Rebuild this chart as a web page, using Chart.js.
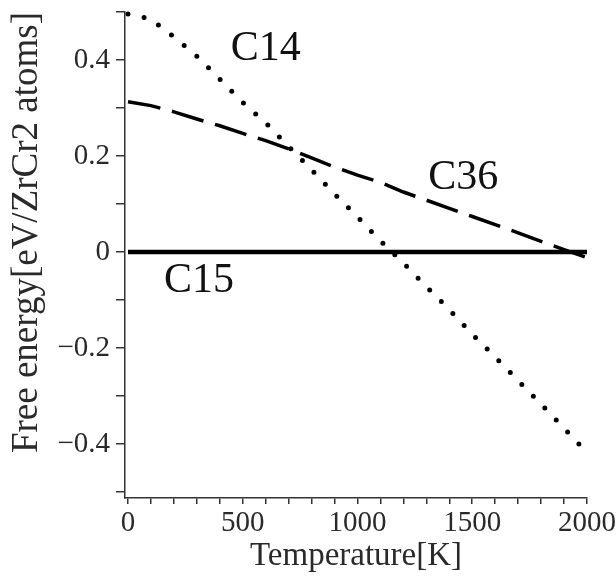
<!DOCTYPE html>
<html>
<head>
<meta charset="utf-8">
<script src="https://cdn.jsdelivr.net/npm/chart.js@4/dist/chart.umd.min.js"></script>
<style>
  html, body { margin: 0; padding: 0; background: #ffffff; }
  #wrap { width: 616px; height: 576px; }
</style>
</head>
<body>
<div id="wrap"><canvas id="c" width="616" height="576"></canvas></div>
<script>
// ---- data ----
const temperatures = [0,100,200,300,400,500,600,700,800,900,1000,1100,1200,1300,1400,1500,1600,1700,1800,1900,2000,2020];
const c14Energy = [0.496,0.485,0.448,0.408,0.360,0.312,0.269,0.220,0.171,0.121,0.073,0.023,-0.023,-0.072,-0.120,-0.171,-0.219,-0.268,-0.317,-0.367,-0.418,-0.428];
const c36Energy = [0.313,0.305,0.292,0.277,0.263,0.247,0.232,0.215,0.196,0.177,0.160,0.145,0.125,0.108,0.091,0.074,0.057,0.040,0.022,0.005,-0.012,-0.016];
const c15Energy = [0,0,0,0,0,0,0,0,0,0,0,0,0,0,0,0,0,0,0,0,0,0];

const xTickValues = [0,100,200,300,400,500,600,700,800,900,1000,1100,1200,1300,1400,1500,1600,1700,1800,1900,2000];
const xLabelledTicks = [0,500,1000,1500,2000];
const yTickValues = [-0.5,-0.4,-0.3,-0.2,-0.1,0,0.1,0.2,0.3,0.4,0.5];
const yLabelledTicks = [-0.4,-0.2,0,0.2,0.4];

const curveLabels = ['C14','C36','C15'];
const curveLabelX = [600,1461,309];
const curveLabelY = [0.423,0.154,-0.060];

const xTitle = 'Temperature[K]';
const yTitle = 'Free energy[eV/ZrCr2 atoms]';

function pts(vals) { return temperatures.map((t, i) => ({ x: t, y: vals[i] })); }
function near(a, b) { return Math.abs(a - b) < 1e-6; }
function fmtY(v) {
  if (near(v, 0)) return '0';
  const s = Math.abs(v).toFixed(1);
  return v < 0 ? '\u2212' + s : s;
}

const serif = '"Liberation Serif", "Times New Roman", serif';
const txtColor = '#2a2a2a';
const axisColor = '#333333';

const labelPlugin = {
  id: 'curveLabels',
  afterDatasetsDraw(chart) {
    const ctx = chart.ctx;
    const xs = chart.scales.x, ys = chart.scales.y;
    ctx.save();
    ctx.font = '42px ' + serif;
    ctx.fillStyle = '#111111';
    ctx.textAlign = 'center';
    ctx.textBaseline = 'middle';
    curveLabels.forEach((t, i) => {
      ctx.fillText(t, xs.getPixelForValue(curveLabelX[i]), ys.getPixelForValue(curveLabelY[i]));
    });
    ctx.restore();
  }
};

new Chart(document.getElementById('c'), {
  type: 'line',
  data: {
    datasets: [
      {
        label: 'C15', data: pts(c15Energy), borderColor: '#000000', borderWidth: 4.5,
        pointRadius: 0, tension: 0, clip: false, fill: false
      },
      {
        label: 'C36', data: pts(c36Energy), borderColor: '#000000', borderWidth: 3.5,
        borderDash: [33, 12], pointRadius: 0, tension: 0, clip: false, fill: false
      },
      {
        label: 'C14', data: pts(c14Energy), borderColor: '#000000', borderWidth: 5,
        borderDash: [0, 16.5], borderCapStyle: 'round', pointRadius: 0, tension: 0, clip: false, fill: false
      }
    ]
  },
  options: {
    responsive: false,
    devicePixelRatio: 1,
    animation: false,
    layout: { padding: { left: 0, right: 29, top: 12, bottom: 0 } },
    plugins: { legend: { display: false }, tooltip: { enabled: false } },
    scales: {
      x: {
        type: 'linear',
        min: -13,
        max: 2000,
        afterBuildTicks: (s) => { s.ticks = xTickValues.map(v => ({ value: v })); },
        afterFit: (s) => { s.height = 78; s.paddingLeft = 0; s.paddingRight = 0; },
        border: { display: true, color: axisColor, width: 1.5 },
        grid: { drawOnChartArea: false, drawTicks: true, tickLength: 6, color: axisColor, lineWidth: 1.5 },
        ticks: {
          autoSkip: false, maxRotation: 0, padding: 2,
          color: txtColor, font: { family: serif, size: 29 },
          callback: (v) => xLabelledTicks.some(t => near(t, v)) ? String(v) : ''
        },
        title: {
          display: true, text: xTitle, color: txtColor,
          font: { family: serif, size: 33 }, padding: { top: 0, bottom: 0 }
        }
      },
      y: {
        type: 'linear',
        min: -0.5125,
        max: 0.5,
        afterBuildTicks: (s) => { s.ticks = yTickValues.map(v => ({ value: v })); },
        afterFit: (s) => { s.width = 125; s.paddingTop = 0; s.paddingBottom = 0; },
        border: { display: true, color: axisColor, width: 1.5 },
        grid: { drawOnChartArea: false, drawTicks: true, tickLength: 9, color: axisColor, lineWidth: 1.5 },
        ticks: {
          autoSkip: false, padding: 6,
          color: txtColor, font: { family: serif, size: 29 },
          callback: (v) => yLabelledTicks.some(t => near(t, v)) ? fmtY(v) : ''
        },
        title: {
          display: true, text: yTitle, color: txtColor, align: 'end',
          font: { family: serif, size: 37 }, padding: { top: 5, bottom: 0 }
        }
      }
    }
  },
  plugins: [labelPlugin]
});
</script>
</body>
</html>
